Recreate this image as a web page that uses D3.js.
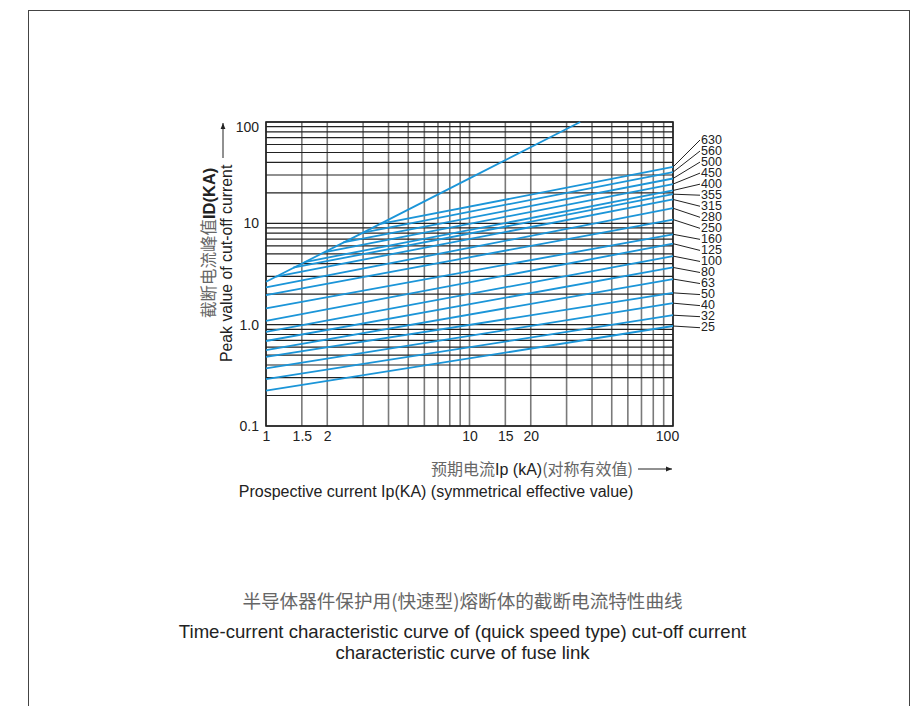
<!DOCTYPE html>
<html>
<head>
<meta charset="utf-8">
<script src="https://cdn.jsdelivr.net/npm/d3@7"></script>
<style>
  body { margin: 0; background: #fff; }
  svg { display: block; }
  .en { font-family: "Liberation Sans", Arial, sans-serif; fill: #222; }
  .cn { font-family: "Noto Sans CJK SC", sans-serif; fill: #666; }
  .tick text { font-family: "Liberation Sans", Arial, sans-serif; font-size: 14px; fill: #222; }
</style>
</head>
<body>
<div class="container"></div>
<script>
// rated currents (A) of the fuse links, top line first
var ratings = [630, 560, 500, 450, 400, 355, 315, 280, 250, 160, 125, 100, 80, 63, 50, 40, 32, 25];
// where each line starts (on the envelope or at Ip = 1 kA)
var startIp = [3.6, 3.0, 2.4, 1.95, 1.55, 1.36, 1.12, 1, 1, 1, 1, 1, 1, 1, 1, 1, 1, 1];
var startId = [9.8, 8.1, 6.5, 5.2, 4.15, 3.65, 2.98, 2.33, 1.96, 1.45, 1.09, 0.85, 0.69, 0.56, 0.48, 0.37, 0.29, 0.223];
// cut-off current at Ip = 100 kA
var endIp = 100;
var endId = [36, 32, 27.7, 24.4, 21.1, 19.4, 17.2, 14.1, 10.9, 7.8, 6.3, 4.75, 3.67, 2.82, 2.06, 1.63, 1.24, 0.97];
// upper envelope (unlimited peak)
var envelopeIp = [1, 3, 10, 35];
var envelopeId = [2.65, 8.1, 27.8, 100];

var xTicks = [1, 1.5, 2, 10, 15, 20, 100];
var xTickLabels = ["1", "1.5", "2", "10", "15", "20", "100"];
var yTicks = [0.1, 1, 10, 100];
var yTickLabels = ["0.1", "1.0", "10", "100"];
var xGrid = [1, 1.5, 2, 3, 4, 5, 6, 7, 8, 9, 10, 15, 20, 30, 40, 50, 60, 70, 80, 90, 100];
var yGrid = [0.1, 0.2, 0.3, 0.4, 0.5, 0.6, 0.7, 0.8, 0.9, 1, 2, 3, 4, 5, 6, 7, 8, 9, 10, 20, 30, 40, 50, 60, 70, 80, 90, 100];

var blue = "#1b95d8";

var svg = d3.select(".container")
  .append("svg")
    .attr("width", 916)
    .attr("height", 706);

// outer frame
svg.append("rect")
  .attr("x", 28.5)
  .attr("y", 10.5)
  .attr("width", 881)
  .attr("height", 720)
  .attr("fill", "none")
  .attr("stroke", "#444")
  .attr("stroke-width", 1);

var x = d3.scaleLog().domain([1, 100]).range([266, 673]);
var y = d3.scaleLog().domain([0.1, 100]).range([426, 122]);

// grid
svg.append("g")
  .selectAll("line")
  .data(xGrid)
  .enter().append("line")
    .attr("x1", d => x(d))
    .attr("x2", d => x(d))
    .attr("y1", y(0.1))
    .attr("y2", y(100))
    .attr("stroke", "#7a7a7a")
    .attr("stroke-width", 1.6);

svg.append("g")
  .selectAll("line")
  .data(yGrid)
  .enter().append("line")
    .attr("x1", x(1))
    .attr("x2", x(100))
    .attr("y1", d => y(d))
    .attr("y2", d => y(d))
    .attr("stroke", "#222")
    .attr("stroke-width", 1.2);

svg.append("rect")
  .attr("x", x(1))
  .attr("y", y(100))
  .attr("width", x(100) - x(1))
  .attr("height", y(0.1) - y(100))
  .attr("fill", "none")
  .attr("stroke", "#222")
  .attr("stroke-width", 1.6);

// axes (labels only)
var xAxis = svg.append("g")
  .attr("transform", "translate(0," + (y(0.1) + 2) + ")")
  .call(d3.axisBottom(x).tickValues(xTicks).tickSize(0).tickPadding(3)
    .tickFormat((d, i) => xTickLabels[i]));
xAxis.select(".domain").remove();
xAxis.selectAll(".tick text").filter(d => d === 100).attr("dx", -6);

var yAxis = svg.append("g")
  .attr("transform", "translate(" + (x(1) - 7) + ",0)")
  .call(d3.axisLeft(y).tickValues(yTicks).tickSize(0).tickPadding(0)
    .tickFormat((d, i) => yTickLabels[i]));
yAxis.select(".domain").remove();
yAxis.selectAll(".tick text").filter(d => d === 100).attr("dy", "0.65em");

// curves
var line = d3.line()
  .x(d => x(d[0]))
  .y(d => y(d[1]));

svg.append("path")
  .datum(envelopeIp.map((d, i) => [d, envelopeId[i]]))
  .attr("fill", "none")
  .attr("stroke", blue)
  .attr("stroke-width", 1.8)
  .attr("d", line);

svg.append("g")
  .selectAll("path")
  .data(ratings)
  .enter().append("path")
    .attr("fill", "none")
    .attr("stroke", blue)
    .attr("stroke-width", 1.8)
    .attr("d", (d, i) => line([[startIp[i], startId[i]], [endIp, endId[i]]]));

// rating labels with leaders
var labelY = d3.scaleLinear().domain([0, ratings.length - 1]).range([139, 326.7]);

svg.append("g")
  .selectAll("line")
  .data(ratings)
  .enter().append("line")
    .attr("x1", x(endIp))
    .attr("y1", (d, i) => y(endId[i]))
    .attr("x2", 700)
    .attr("y2", (d, i) => labelY(i) + 1)
    .attr("stroke", "#222")
    .attr("stroke-width", 1);

svg.append("g")
  .selectAll("text")
  .data(ratings)
  .enter().append("text")
    .attr("class", "en")
    .attr("x", 701)
    .attr("y", (d, i) => labelY(i))
    .attr("dy", "0.36em")
    .style("font-size", "12.5px")
    .text(d => d);

// y axis title
var yt = svg.append("g").attr("transform", "translate(215,318) rotate(-90)");
var ytc = yt.append("text").attr("x", 0).attr("y", 0).style("font-size", "16.5px");
ytc.append("tspan").attr("class", "cn").text("截断电流峰值");
ytc.append("tspan").attr("class", "en").style("font-weight", "bold").text("ID(KA)");

svg.append("text")
  .attr("class", "en")
  .attr("transform", "translate(232,362) rotate(-90)")
  .style("font-size", "15.8px")
  .text("Peak value of cut-off current");

svg.append("defs").append("marker")
  .attr("id", "arr")
  .attr("viewBox", "0 0 10 10")
  .attr("refX", 10).attr("refY", 5)
  .attr("markerWidth", 6).attr("markerHeight", 6)
  .attr("orient", "auto")
  .append("path")
    .attr("d", "M0,1L10,5L0,9z")
    .attr("fill", "#222");

svg.append("line")
  .attr("x1", 223).attr("y1", 158)
  .attr("x2", 223).attr("y2", 123)
  .attr("stroke", "#222").attr("stroke-width", 1)
  .attr("marker-end", "url(#arr)");

// x axis title
var xtc = svg.append("text")
  .attr("x", 633)
  .attr("y", 475)
  .attr("text-anchor", "end")
  .style("font-size", "16px");
xtc.append("tspan").attr("class", "cn").text("预期电流");
xtc.append("tspan").attr("class", "en").text("Ip (kA)");
xtc.append("tspan").attr("class", "cn").text("(对称有效值)");

svg.append("line")
  .attr("x1", 638).attr("y1", 469)
  .attr("x2", 672).attr("y2", 469)
  .attr("stroke", "#222").attr("stroke-width", 1)
  .attr("marker-end", "url(#arr)");

svg.append("text")
  .attr("class", "en")
  .attr("x", 436)
  .attr("y", 497)
  .attr("text-anchor", "middle")
  .style("font-size", "16px")
  .text("Prospective current Ip(KA) (symmetrical effective value)");

// titles
svg.append("text")
  .attr("class", "cn")
  .attr("x", 462.5)
  .attr("y", 608)
  .attr("text-anchor", "middle")
  .style("font-size", "18.6px")
  .text("半导体器件保护用(快速型)熔断体的截断电流特性曲线");

svg.append("text")
  .attr("class", "en")
  .attr("x", 462.5)
  .attr("y", 638)
  .attr("text-anchor", "middle")
  .style("font-size", "18.6px")
  .text("Time-current characteristic curve of (quick speed type) cut-off current");

svg.append("text")
  .attr("class", "en")
  .attr("x", 462.5)
  .attr("y", 659)
  .attr("text-anchor", "middle")
  .style("font-size", "18.6px")
  .text("characteristic curve of fuse link");
</script>
</body>
</html>
